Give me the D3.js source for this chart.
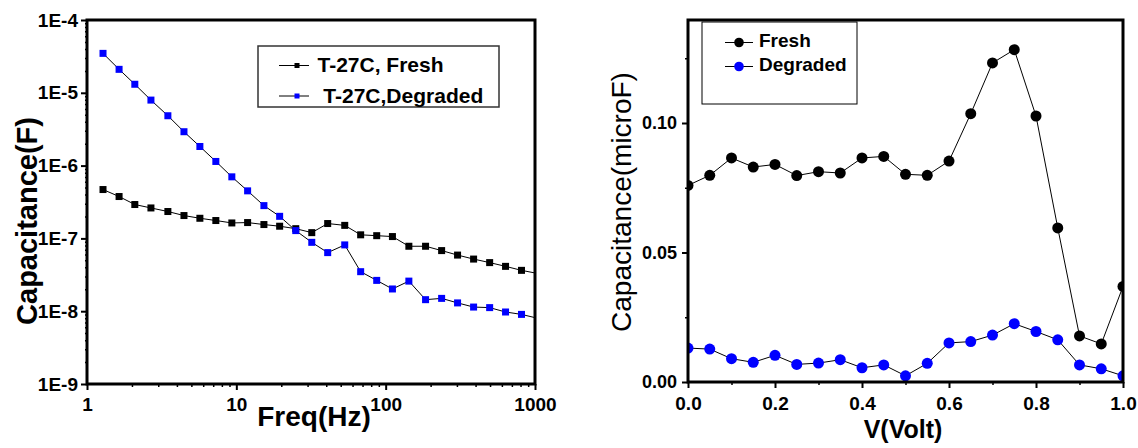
<!DOCTYPE html>
<html>
<head>
<meta charset="utf-8">
<script src="https://cdn.jsdelivr.net/npm/d3@7"></script>
<style>
  body { margin: 0; background: #fff; }
  text { font-family: "Liberation Sans", Arial, sans-serif; }
</style>
</head>
<body>
<div id="container"></div>
<script>
/**
 * CONSTANTS AND DATA
 * */
const W = 1138
const H = 448

// left panel: capacitance vs frequency (log-log)
const freq = [1.28, 1.64, 2.09, 2.68, 3.48, 4.46, 5.70, 7.29, 9.33, 11.9, 15.3, 19.5, 25.0, 32.0,
  40.9, 53.2, 68.0, 87.1, 111, 143, 185, 237, 303, 388, 497, 635, 812, 1040]
const capFresh = [4.69e-7, 3.76e-7, 2.92e-7, 2.62e-7, 2.34e-7, 2.06e-7, 1.89e-7, 1.76e-7, 1.63e-7, 1.65e-7,
  1.55e-7, 1.47e-7, 1.36e-7, 1.20e-7, 1.60e-7, 1.51e-7, 1.12e-7, 1.09e-7, 1.06e-7, 7.8e-8,
  7.8e-8, 6.8e-8, 5.9e-8, 5.2e-8, 4.65e-8, 4.13e-8, 3.64e-8, 3.3e-8]
const capDegraded = [3.48e-5, 2.10e-5, 1.31e-5, 7.94e-6, 4.84e-6, 2.92e-6, 1.83e-6, 1.14e-6, 7.01e-7, 4.50e-7,
  2.82e-7, 2.01e-7, 1.28e-7, 8.83e-8, 6.38e-8, 8.14e-8, 3.49e-8, 2.65e-8, 2.02e-8, 2.59e-8,
  1.44e-8, 1.50e-8, 1.30e-8, 1.14e-8, 1.12e-8, 9.75e-9, 9.04e-9, 8.0e-9]
const freqTicks = [1, 10, 100, 1000]
const capTicks = [1e-9, 1e-8, 1e-7, 1e-6, 1e-5, 1e-4]
const freqLegend = ["T-27C, Fresh", " T-27C,Degraded"]

// right panel: capacitance vs voltage
const volt = [0, 0.05, 0.10, 0.15, 0.20, 0.25, 0.30, 0.35, 0.40, 0.45, 0.50,
  0.55, 0.60, 0.65, 0.70, 0.75, 0.80, 0.85, 0.90, 0.95, 1.00]
const cvFresh = [0.0759, 0.0798, 0.0865, 0.0830, 0.0840, 0.0797, 0.0812, 0.0807, 0.0865, 0.0871, 0.0802,
  0.0798, 0.0853, 0.1036, 0.1232, 0.1283, 0.1027, 0.0595, 0.0178, 0.0147, 0.0369]
const cvDegraded = [0.0131, 0.0127, 0.0090, 0.0076, 0.0103, 0.0068, 0.0073, 0.0086, 0.0055, 0.0066, 0.0024,
  0.0072, 0.0151, 0.0156, 0.0181, 0.0225, 0.0195, 0.0163, 0.0066, 0.0051, 0.0024]
const voltTicks = [0, 0.2, 0.4, 0.6, 0.8, 1.0]
const voltMinor = [0.1, 0.3, 0.5, 0.7, 0.9]
const cvTicks = [0, 0.05, 0.10]
const cvMinor = [0.025, 0.075, 0.125]
const cvLegend = ["Fresh", "Degraded"]

const BLUE = "#0000ff"

const svg = d3.select("#container")
  .append("svg")
  .attr("width", W)
  .attr("height", H)
  .style("display", "block")

svg.append("rect").attr("width", W).attr("height", H).attr("fill", "#fff")

function styleAxis(g, size, width) {
  g.select(".domain").remove()
  g.selectAll(".tick line").attr("stroke", "#000").attr("stroke-width", width)
  g.selectAll("text")
    .attr("fill", "#000")
    .style("font-size", size + "px")
    .style("font-weight", "bold")
}

/**
 * LEFT PANEL
 * */
const xL = d3.scaleLog().domain([1, 1000]).range([87, 535])
const yL = d3.scaleLog().domain([1e-9, 1e-4]).range([384, 20])

const left = svg.append("g")

left.append("clipPath").attr("id", "clipL")
  .append("rect").attr("x", 87).attr("y", 20).attr("width", 448).attr("height", 364)

// minor ticks
left.append("g").attr("transform", "translate(0,384)")
  .call(d3.axisBottom(xL).tickValues(xL.ticks().filter(d => !freqTicks.includes(d))).tickSize(3).tickFormat(""))
  .call(g => styleAxis(g, 0, 1.5))
left.append("g").attr("transform", "translate(87,0)")
  .call(d3.axisLeft(yL).tickValues(yL.ticks().filter(d => !capTicks.some(c => Math.abs(c - d) / c < 1e-6))).tickSize(2).tickFormat(""))
  .call(g => styleAxis(g, 0, 1.5))

// major ticks
left.append("g").attr("transform", "translate(0,384)")
  .call(d3.axisBottom(xL).tickValues(freqTicks).tickSize(6).tickPadding(8).tickFormat(d3.format("d")))
  .call(g => styleAxis(g, 19, 2))
left.append("g").attr("transform", "translate(87,0)")
  .call(d3.axisLeft(yL).tickValues(capTicks).tickSize(6).tickPadding(3)
    .tickFormat(d => "1E" + Math.round(Math.log10(d))))
  .call(g => styleAxis(g, 19, 2))

const plotL = left.append("g").attr("clip-path", "url(#clipL)")

const lineL = vals => d3.line()
  .x((d, i) => xL(freq[i]))
  .y(d => yL(d))(vals)

plotL.append("path").attr("d", lineL(capFresh)).attr("fill", "none").attr("stroke", "#000").attr("stroke-width", 1)
plotL.append("path").attr("d", lineL(capDegraded)).attr("fill", "none").attr("stroke", "#000").attr("stroke-width", 1)

plotL.selectAll(".sqF").data(capFresh).join("rect")
  .attr("class", "sqF")
  .attr("x", (d, i) => xL(freq[i]) - 3.5)
  .attr("y", d => yL(d) - 3.5)
  .attr("width", 7).attr("height", 7)
  .attr("fill", "#000")
plotL.selectAll(".sqD").data(capDegraded).join("rect")
  .attr("class", "sqD")
  .attr("x", (d, i) => xL(freq[i]) - 3.5)
  .attr("y", d => yL(d) - 3.5)
  .attr("width", 7).attr("height", 7)
  .attr("fill", BLUE)

left.append("rect")
  .attr("x", 87).attr("y", 20).attr("width", 448).attr("height", 364)
  .attr("fill", "none").attr("stroke", "#000").attr("stroke-width", 3)

// legend
const legL = left.append("g")
legL.append("rect").attr("x", 258).attr("y", 46).attr("width", 241).attr("height", 61)
  .attr("fill", "#fff").attr("stroke", "#333").attr("stroke-width", 1.5)
const legLColors = ["#000", BLUE]
const legLY = [65.5, 96]
freqLegend.forEach((label, i) => {
  legL.append("line").attr("x1", 279).attr("x2", 309).attr("y1", legLY[i]).attr("y2", legLY[i])
    .attr("stroke", "#000").attr("stroke-width", 1)
  legL.append("rect").attr("x", 294.5).attr("y", legLY[i] - 2.5).attr("width", 5).attr("height", 5)
    .attr("fill", legLColors[i])
  legL.append("text").attr("x", 317.5).attr("y", legLY[i] + 6.5)
    .style("font-size", "21px").style("font-weight", "bold").style("white-space", "pre")
    .text(label)
})

// axis titles
left.append("text")
  .attr("x", 314).attr("y", 426)
  .attr("text-anchor", "middle")
  .style("font-size", "28px").style("font-weight", "bold")
  .text("Freq(Hz)")
left.append("text")
  .attr("transform", "translate(37,221) rotate(-90)")
  .attr("text-anchor", "middle")
  .style("font-size", "29px").style("font-weight", "bold")
  .text("Capacitance(F)")

/**
 * RIGHT PANEL
 * */
const xR = d3.scaleLinear().domain([0, 1]).range([688, 1123])
const yR = d3.scaleLinear().domain([0, 0.14]).range([382, 19.4])

const right = svg.append("g")

right.append("clipPath").attr("id", "clipR")
  .append("rect").attr("x", 688).attr("y", 20).attr("width", 435).attr("height", 362)

right.append("g").attr("transform", "translate(0,382)")
  .call(d3.axisBottom(xR).tickValues(voltMinor).tickSize(3).tickFormat(""))
  .call(g => styleAxis(g, 0, 1.5))
right.append("g").attr("transform", "translate(688,0)")
  .call(d3.axisLeft(yR).tickValues(cvMinor).tickSize(3).tickFormat(""))
  .call(g => styleAxis(g, 0, 1.5))

right.append("g").attr("transform", "translate(0,382)")
  .call(d3.axisBottom(xR).tickValues(voltTicks).tickSize(6).tickPadding(9).tickFormat(d3.format(".1f")))
  .call(g => styleAxis(g, 19, 2))
right.append("g").attr("transform", "translate(688,0)")
  .call(d3.axisLeft(yR).tickValues(cvTicks).tickSize(6).tickPadding(5).tickFormat(d3.format(".2f")))
  .call(g => styleAxis(g, 18, 2))

const plotR = right.append("g").attr("clip-path", "url(#clipR)")

const lineR = vals => d3.line()
  .x((d, i) => xR(volt[i]))
  .y(d => yR(d))(vals)

plotR.append("path").attr("d", lineR(cvFresh)).attr("fill", "none").attr("stroke", "#000").attr("stroke-width", 1)
plotR.append("path").attr("d", lineR(cvDegraded)).attr("fill", "none").attr("stroke", "#000").attr("stroke-width", 1)

plotR.selectAll(".cF").data(cvFresh).join("circle")
  .attr("class", "cF")
  .attr("cx", (d, i) => xR(volt[i]))
  .attr("cy", d => yR(d))
  .attr("r", 5.5)
  .attr("fill", "#000")
plotR.selectAll(".cD").data(cvDegraded).join("circle")
  .attr("class", "cD")
  .attr("cx", (d, i) => xR(volt[i]))
  .attr("cy", d => yR(d))
  .attr("r", 5.5)
  .attr("fill", BLUE)

right.append("rect")
  .attr("x", 688).attr("y", 20).attr("width", 435).attr("height", 362)
  .attr("fill", "none").attr("stroke", "#000").attr("stroke-width", 3)

// legend
const legR = right.append("g")
legR.append("rect").attr("x", 702).attr("y", 22).attr("width", 155).attr("height", 82)
  .attr("fill", "#fff").attr("stroke", "#000").attr("stroke-width", 1)
const legRColors = ["#000", BLUE]
const legRY = [42.5, 66.5]
cvLegend.forEach((label, i) => {
  legR.append("line").attr("x1", 725).attr("x2", 753).attr("y1", legRY[i]).attr("y2", legRY[i])
    .attr("stroke", "#000").attr("stroke-width", 1)
  legR.append("circle").attr("cx", 739).attr("cy", legRY[i]).attr("r", 4.8)
    .attr("fill", legRColors[i])
  legR.append("text").attr("x", 759).attr("y", legRY[i] + 4.5)
    .style("font-size", "19px").style("font-weight", "bold")
    .text(label)
})

right.append("text")
  .attr("x", 903).attr("y", 438)
  .attr("text-anchor", "middle")
  .style("font-size", "25px").style("font-weight", "bold")
  .text("V(Volt)")
right.append("text")
  .attr("transform", "translate(631,202) rotate(-90)")
  .attr("text-anchor", "middle")
  .style("font-size", "28px")
  .text("Capacitance(microF)")
</script>
</body>
</html>
